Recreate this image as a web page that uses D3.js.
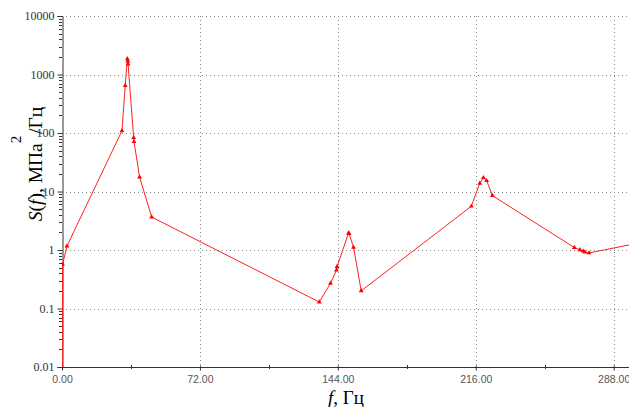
<!DOCTYPE html>
<html lang="ru">
<head>
<meta charset="utf-8">
<title>S(f)</title>
<style>
  body { margin: 0; background: #fff; }
  svg { display: block; }
</style>
</head>
<body>
<svg></svg>
<script src="https://d3js.org/d3.v7.min.js"></script>
<script>
// частоты, Гц
var freq = [0, 0.3, 2.6, 31.3, 33.0, 34.1, 34.4, 34.5, 37.4, 37.6, 40.5, 46.8,
            134.3, 140.2, 143.3, 143.6, 149.6, 149.9, 152.2, 156.2,
            213.7, 218.1, 220.0, 221.7, 224.7,
            267.5, 270.4, 272.0, 273.0, 275.1, 296];
// спектральная плотность, МПа^2/Гц
var spec = [0.0001, 0.57, 1.17, 109, 646, 1850, 1700, 1500, 83, 71, 17.7, 3.66,
            0.129, 0.27, 0.455, 0.52, 1.95, 1.9, 1.11, 0.2,
            5.6, 13.8, 17.2, 15.3, 8.5,
            1.1, 1.01, 0.96, 0.92, 0.89, 1.22];
var xTicks = [0, 72, 144, 216, 288];
var yTicks = [0.01, 0.1, 1, 10, 100, 1000, 10000];

var width = 629, height = 407;
var pLeft = 62, pRight = 629, pTop = 16, pBottom = 367;

var svg = d3.select('svg').attr('width', width).attr('height', height);

var x = d3.scaleLinear().domain([0, 296]).range([pLeft, pRight]);
var y = d3.scaleLog().domain([0.01, 10000]).range([pBottom, pTop]);

// сетка
svg.append('g').selectAll('line')
  .data(yTicks.slice(1))
  .enter().append('line')
  .attr('x1', pLeft).attr('x2', pRight)
  .attr('y1', function(d) { return Math.round(y(d)) + 0.5; })
  .attr('y2', function(d) { return Math.round(y(d)) + 0.5; })
  .attr('stroke', '#888').attr('stroke-dasharray', '1,3');

svg.append('g').selectAll('line')
  .data(xTicks.slice(1))
  .enter().append('line')
  .attr('x1', function(d) { return Math.round(x(d)) + 0.5; })
  .attr('x2', function(d) { return Math.round(x(d)) + 0.5; })
  .attr('y1', pTop).attr('y2', pBottom)
  .attr('stroke', '#888').attr('stroke-dasharray', '1,3');

// ось Y с мелкими делениями
var minorY = [];
for (var e = -2; e < 4; e++) {
  for (var k = 2; k < 10; k++) minorY.push(k * Math.pow(10, e));
}
svg.append('g').selectAll('line')
  .data(minorY)
  .enter().append('line')
  .attr('x1', pLeft - 3).attr('x2', pLeft)
  .attr('y1', function(d) { return Math.round(y(d)) + 0.5; })
  .attr('y2', function(d) { return Math.round(y(d)) + 0.5; })
  .attr('stroke', '#333');

var yAxis = svg.append('g')
  .attr('transform', 'translate(' + (pLeft + 0.5) + ',0)')
  .call(d3.axisLeft(y).tickValues(yTicks).tickSize(5).tickPadding(3)
    .tickFormat(function(d) { return String(d); }));
yAxis.select('.domain').attr('stroke', '#333');
yAxis.selectAll('.tick line').attr('stroke', '#333');
yAxis.selectAll('text')
  .attr('font-family', 'Liberation Serif, serif')
  .attr('font-size', 12).attr('fill', '#333');

// ось X
var xAxis = svg.append('g')
  .attr('transform', 'translate(0,' + (pBottom + 0.5) + ')')
  .call(d3.axisBottom(x).tickValues(xTicks).tickSize(3).tickPadding(5)
    .tickFormat(d3.format('.2f')));
xAxis.select('.domain').attr('stroke', '#333').attr('d', 'M' + pLeft + ',0H' + pRight);
xAxis.selectAll('.tick line').attr('stroke', '#333').attr('y1', -2);
xAxis.selectAll('text')
  .attr('font-family', 'Liberation Sans, sans-serif')
  .attr('font-size', 10.5).attr('fill', '#555');

svg.append('g').selectAll('line')
  .data([36, 108, 180, 252])
  .enter().append('line')
  .attr('x1', function(d) { return Math.round(x(d)) + 0.5; })
  .attr('x2', function(d) { return Math.round(x(d)) + 0.5; })
  .attr('y1', pBottom - 2).attr('y2', pBottom + 2)
  .attr('stroke', '#333');

// кривая
svg.append('clipPath').attr('id', 'clip')
  .append('rect').attr('x', pLeft).attr('y', pTop)
  .attr('width', pRight - pLeft).attr('height', pBottom - pTop);

var pts = freq.map(function(f, i) { return [f, spec[i]]; });
var line = d3.line()
  .x(function(d) { return x(d[0]); })
  .y(function(d) { return y(d[1]); });

svg.append('path')
  .datum(pts)
  .attr('clip-path', 'url(#clip)')
  .attr('d', line)
  .attr('fill', 'none')
  .attr('stroke', '#ff2020')
  .attr('stroke-width', 1);

svg.append('g').attr('clip-path', 'url(#clip)')
  .selectAll('path')
  .data(pts.slice(1, pts.length - 1))
  .enter().append('path')
  .attr('transform', function(d) { return 'translate(' + x(d[0]) + ',' + y(d[1]) + ')'; })
  .attr('d', d3.symbol().type(d3.symbolTriangle).size(10))
  .attr('fill', '#ff0000');

// подписи осей
var yTitle = svg.append('text')
  .attr('transform', 'translate(42,164) rotate(-90)')
  .attr('text-anchor', 'middle')
  .attr('font-family', 'Liberation Serif, serif')
  .attr('font-size', 19.5).attr('fill', '#000');
yTitle.append('tspan').attr('font-style', 'italic').text('S');
yTitle.append('tspan').text('(');
yTitle.append('tspan').attr('font-style', 'italic').text('f');
yTitle.append('tspan').text('), МПа');
yTitle.append('tspan').attr('font-size', 15).attr('dy', -21).text('2');
yTitle.append('tspan').attr('dy', 21).attr('dx', -3).text(' /Гц');

var xTitle = svg.append('text')
  .attr('x', 346).attr('y', 404)
  .attr('text-anchor', 'middle')
  .attr('font-family', 'Liberation Serif, serif')
  .attr('font-size', 19).attr('fill', '#000');
xTitle.append('tspan').attr('font-style', 'italic').text('f');
xTitle.append('tspan').text(', Гц');
</script>
</body>
</html>
